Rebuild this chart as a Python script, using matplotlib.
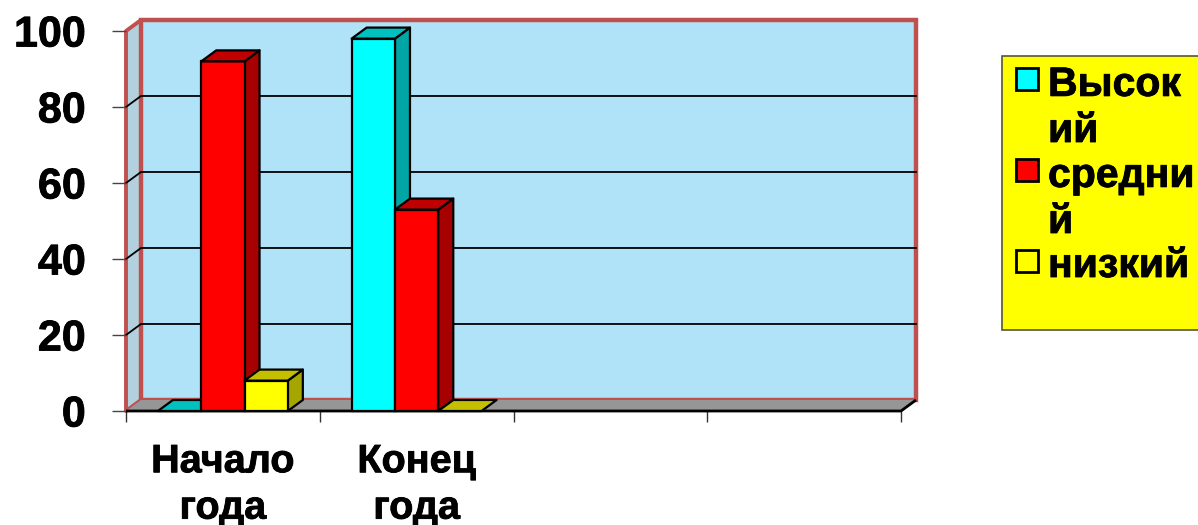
import matplotlib
matplotlib.use("Agg")
import matplotlib.pyplot as plt
import matplotlib.patheffects as pe
from matplotlib.patches import Polygon, Rectangle

plt.rcParams['font.family'] = ['Liberation Sans', 'DejaVu Sans']
plt.rcParams['font.weight'] = 'bold'

categories = ["Начало\nгода", "Конец\nгода", "", ""]
series_names = ["Высокий", "средний", "низкий"]
legend_lines = ["Высок\nий", "средни\nй", "низкий"]
high = [0, 98]
mid = [92, 53]
low = [8, 0]
y_ticks = [0, 20, 40, 60, 80, 100]

W, H = 1198, 525
styles = [("#00ffff", "#00c0c0", "#00a6a6"),
          ("#ff0000", "#c00000", "#a60000"),
          ("#ffff00", "#c4c000", "#a6a600")]
BW = 0.2235
DX, DY = 15 / 193.75, 2.9
RED = "#c0504d"
HEAVY = [pe.withStroke(linewidth=0.6, foreground="black")]

fig = plt.figure(figsize=(W / 100, H / 100), dpi=100, facecolor="white")
ax = fig.add_axes([126 / W, 1 - 411 / H, 775 / W, 380 / H])
ax.set_xlim(0, len(categories))
ax.set_ylim(0, 100)
ax.patch.set_visible(False)
for s in ["top", "right", "left", "bottom"]:
    ax.spines[s].set_visible(False)


def poly(pts, fc, ec="none", lw=0, z=1, join="miter"):
    p = Polygon(pts, closed=True, facecolor=fc, edgecolor=ec, linewidth=lw,
                zorder=z, clip_on=False, joinstyle=join)
    ax.add_patch(p)
    return p


xn = len(categories)
# side wall, back wall, floor
poly([(0, 0), (DX, DY), (DX, 100 + DY), (0, 100)], "#b3d0de", RED, 2.8, 1, join="round")
poly([(DX, DY), (xn + DX, DY), (xn + DX, 100 + DY), (DX, 100 + DY)], "#b0e3f8", RED, 3.2, 1.1)
for v in y_ticks[1:-1]:
    ax.plot([0, DX, xn + DX], [v, v + DY, v + DY], color="black", lw=1.3, zorder=1.5, clip_on=False)
poly([(0, 0), (DX, DY), (xn + DX, DY), (xn, 0)], "#969696", z=2)
ax.plot([0, xn, xn + DX], [0, 0, DY], color="black", lw=2, zorder=2.1, clip_on=False,
        solid_joinstyle="round", solid_capstyle="butt")

# bars
z = 3
for i in range(2):
    x0 = i + 0.5 - 1.5 * BW
    for j, vals in enumerate([high, mid, low]):
        v = vals[i]
        a, b = x0 + j * BW, x0 + (j + 1) * BW
        fc, tc, sc = styles[j]
        if v > 0:
            poly([(b, 0), (b + DX, DY), (b + DX, v + DY), (b, v)], sc, "black", 1.6, z, join="round")
            poly([(a, 0), (b, 0), (b, v), (a, v)], fc, "black", 1.6, z + 0.1)
        poly([(a, v), (b, v), (b + DX, v + DY), (a + DX, v + DY)], tc, "black", 1.6, z + 0.2, join="round")
        z += 1

ax.set_yticks(y_ticks)
ax.set_yticklabels([str(v) for v in y_ticks], fontsize=31, fontweight="bold", path_effects=HEAVY)
ax.tick_params(axis="y", length=10, width=1, color="#444444", pad=19)
ax.set_xticks(range(xn + 1))
ax.set_xticklabels([])
ax.tick_params(axis="x", which="major", length=8, width=1, color="#333333")
ax.set_xticks([i + 0.5 for i in range(xn)], minor=True)
ax.set_xticklabels(categories, minor=True, fontsize=28.5, fontweight="bold", linespacing=1.28,
                   path_effects=HEAVY)
ax.tick_params(axis="x", which="minor", length=0, pad=22.5)


# legend (clipped by the right edge of the picture)
def fx(px): return px / W
def fy(py): return 1 - py / H


fig.add_artist(Rectangle((fx(1002), fy(329.5)), (1210 - 1002) / W, (329.5 - 56) / H,
                         transform=fig.transFigure, facecolor="#ffff00",
                         edgecolor="#55553a", linewidth=1.2))
handle_tops = [68, 159, 250]
last_baselines = [142, 233, 277]
for (fc, _, _), label, top, base in zip(styles, legend_lines, handle_tops, last_baselines):
    fig.add_artist(Rectangle((fx(1016), fy(top + 22)), 22 / W, 22 / H, transform=fig.transFigure,
                             facecolor=fc, edgecolor="black", linewidth=2))
    fig.text(fx(1048), fy(base), label, fontsize=29.5, fontweight="bold", va="baseline",
             ha="left", linespacing=1.27, color="black", path_effects=HEAVY)

fig.savefig("out.png", dpi=100, facecolor="white")
